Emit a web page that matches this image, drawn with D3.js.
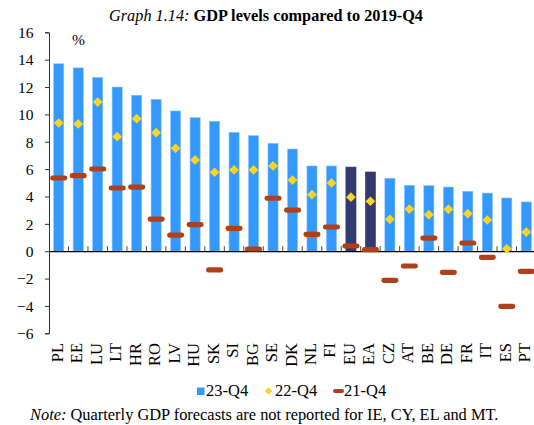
<!DOCTYPE html>
<html>
<head>
<meta charset="utf-8">
<script src="https://cdn.jsdelivr.net/npm/d3@7"></script>
<style>
  body { margin: 0; background: #fff; }
  svg { display: block; font-family: "Liberation Serif", "Times New Roman", serif; }
</style>
</head>
<body>
<svg id="chart" width="534" height="425"></svg>
<script>
var countries = ["PL","EE","LU","LT","HR","RO","LV","HU","SK","SI","BG","SE","DK","NL","FI","EU","EA","CZ","AT","BE","DE","FR","IT","ES","PT"];
var q23 = [13.7,13.4,12.7,12.0,11.4,11.1,10.25,9.76,9.5,8.69,8.45,7.88,7.47,6.23,6.23,6.15,5.79,5.33,4.82,4.79,4.69,4.38,4.25,3.89,3.6];
var q22 = [9.37,9.3,10.9,8.37,9.69,8.66,7.52,6.67,5.77,5.94,5.94,6.23,5.2,4.13,4.99,3.95,3.65,2.33,3.08,2.67,3.06,2.74,2.28,0.18,1.4];
var q21 = [5.35,5.52,6.01,4.62,4.69,2.35,1.18,1.94,-1.37,1.67,0.16,3.87,3.01,1.23,1.77,0.38,0.11,-2.13,-1.08,0.96,-1.54,0.6,-0.45,-4.03,-1.47];
var aggregates = ["EU","EA"];
var yTicks = [-6,-4,-2,0,2,4,6,8,10,12,14,16];
var legendItems = ["23-Q4","22-Q4","21-Q4"];

var data = countries.map(function(c, i){
  return {c: c, q23: q23[i], q22: q22[i], q21: q21[i]};
});

var svg = d3.select("#chart");
var blue = "#3399ff", navy = "#333a72", gold = "#ffd320", rust = "#b0401a";

var x = d3.scaleBand().domain(countries).range([49, 536]);
var y = d3.scaleLinear().domain([-6, 16]).range([333.3, 32.3]);
var bw = x.bandwidth();

// title
var title = svg.append("text").attr("x", 266).attr("y", 21)
  .attr("text-anchor", "middle").style("font-size", "16.3px");
title.append("tspan").style("font-style", "italic").text("Graph 1.14: ");
title.append("tspan").style("font-weight", "bold").text("GDP levels compared to 2019-Q4");

// y axis
var yAxis = d3.axisLeft(y).tickValues(yTicks).tickSize(4).tickSizeOuter(4);
var gy = svg.append("g").attr("transform", "translate(49,0)").call(yAxis);
gy.select(".domain").attr("stroke", "#333").attr("stroke-width", 1);
gy.selectAll(".tick line").attr("stroke", "#333");
gy.selectAll(".tick text").attr("x", -15.5).attr("dy", "0.34em")
  .style("font-size", "15.5px").style("font-family", "Liberation Serif").attr("fill", "#000");

svg.append("text").attr("x", 72).attr("y", 45).style("font-size", "15.5px").text("%");

// bars
svg.append("g").selectAll("rect").data(data).enter().append("rect")
  .attr("x", function(d){ return x(d.c) + bw * 0.24; })
  .attr("width", bw * 0.52)
  .attr("y", function(d){ return y(Math.max(0, d.q23)); })
  .attr("height", function(d){ return Math.abs(y(d.q23) - y(0)); })
  .attr("fill", function(d){ return aggregates.indexOf(d.c) >= 0 ? navy : blue; })
  .attr("stroke", function(d){ return aggregates.indexOf(d.c) >= 0 ? navy : "#8cc4ff"; })
  .attr("stroke-width", 0.6);

// x axis at zero
var xAxis = d3.axisBottom(x).tickSize(0).tickFormat("");
var gx = svg.append("g").attr("transform", "translate(0," + y(0) + ")").call(xAxis);
gx.select(".domain").attr("stroke", "#000").attr("stroke-width", 1.2);
gx.append("g").selectAll("line").data(countries.slice(1)).enter().append("line")
  .attr("x1", function(d){ return x(d); }).attr("x2", function(d){ return x(d); })
  .attr("y1", 0).attr("y2", -5).attr("stroke", "#444").attr("stroke-width", 1);

// category labels
svg.append("g").selectAll("text").data(countries).enter().append("text")
  .attr("transform", function(d){ return "translate(" + (x(d) + bw / 2 + 4) + ",343) rotate(-90)"; })
  .attr("text-anchor", "end")
  .style("font-size", "16.5px")
  .text(function(d){ return d; });

// 21-Q4 dashes
svg.append("g").selectAll("rect").data(data).enter().append("rect")
  .attr("x", function(d){ return x(d.c) + bw / 2 - 8.5; })
  .attr("y", function(d){ return y(d.q21) - 2.6; })
  .attr("width", 17).attr("height", 5.2).attr("rx", 2.4)
  .attr("fill", rust);

// 22-Q4 diamonds
var diamond = d3.symbol().type(d3.symbolDiamond2).size(60);
svg.append("g").selectAll("path").data(data).enter().append("path")
  .attr("d", diamond)
  .attr("transform", function(d){ return "translate(" + (x(d.c) + bw / 2) + "," + y(d.q22) + ")"; })
  .attr("fill", gold);

// legend
var lg = svg.append("g").attr("transform", "translate(0,396)");
lg.append("rect").attr("x", 197).attr("y", -8.5).attr("width", 7.5).attr("height", 7.5).attr("fill", blue);
lg.append("path").attr("d", d3.symbol().type(d3.symbolDiamond2).size(36)).attr("transform", "translate(268.5,-5)").attr("fill", gold);
lg.append("rect").attr("x", 333).attr("y", -7).attr("width", 11).attr("height", 4).attr("rx", 2).attr("fill", rust);
var lx = [206, 275, 344];
legendItems.forEach(function(t, i){
  lg.append("text").attr("x", lx[i]).attr("y", 0).style("font-size", "16.5px").text(t);
});

// note
var note = svg.append("text").attr("x", 30).attr("y", 420).style("font-size", "16.4px");
note.append("tspan").style("font-style", "italic").text("Note:");
note.append("tspan").text(" Quarterly GDP forecasts are not reported for IE, CY, EL and MT.");
</script>
</body>
</html>
